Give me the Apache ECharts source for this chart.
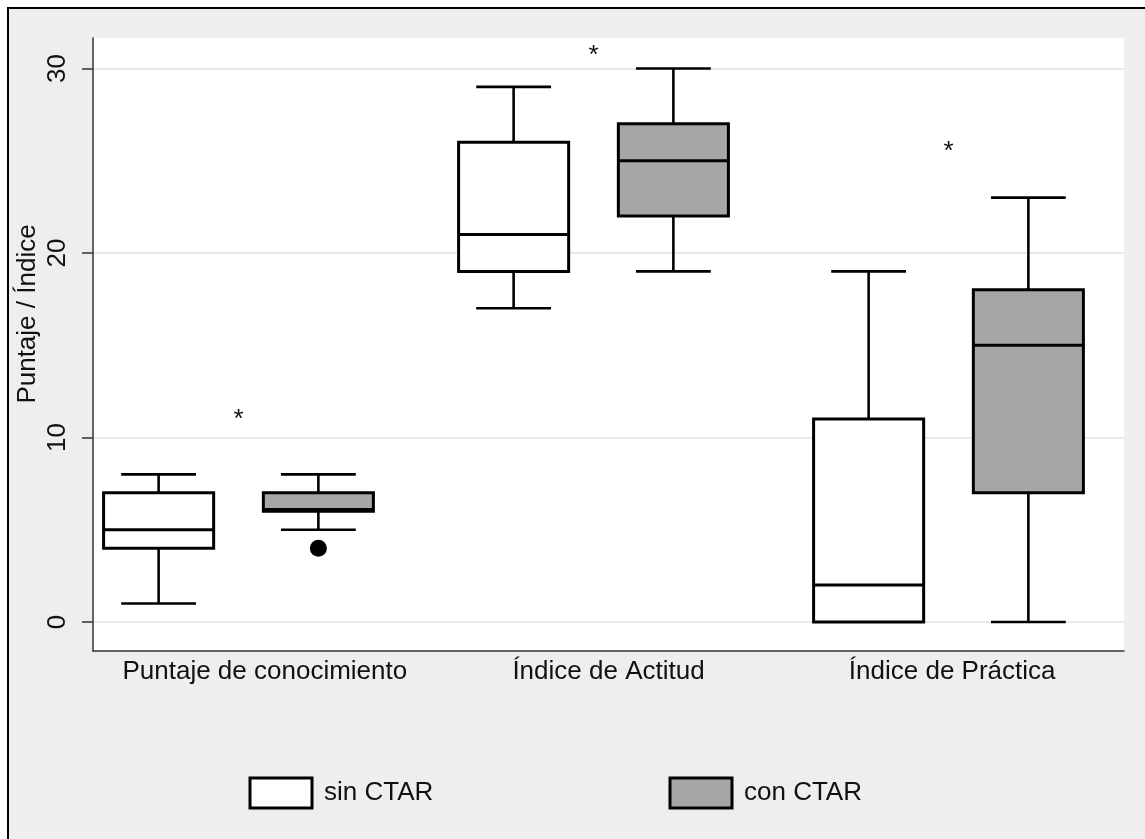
<!DOCTYPE html>
<html><head><meta charset="utf-8">
<script src="https://cdn.jsdelivr.net/npm/echarts@6/dist/echarts.min.js"></script>
<style>html,body{margin:0;padding:0;background:#fff}#c{width:1145px;height:839px}</style>
</head><body><div id="c"></div>
<script>
// ---------- data ----------
const categories = ['Puntaje de conocimiento', 'Índice de Actitud', 'Índice de Práctica'];
const yTicks = [0, 10, 20, 30];
const seriesNames = ['sin CTAR', 'con CTAR'];
// each row: [min, Q1, median, Q3, max]
const sinCTAR = [[1, 4, 5, 7, 8], [17, 19, 21, 26, 29], [0, 0, 2, 11, 19]];
const conCTAR = [[5, 6, 6.1, 7, 8], [19, 22, 25, 27, 30], [0, 7, 15, 18, 23]];
const conOutliers = [[0, 4]];            // [category index, value]
const asterisks = [11.3, 31.0, 25.8];    // significance marks per category
const yTitle = 'Puntaje / Índice';

// ---------- styling ----------
const FONT = "'Liberation Sans', Arial, sans-serif";
const FS = 26;
const Y_MIN = -1.572, Y_MAX = 31.65;

function boxSeries(name, rows, side, fill) {
  return {
    type: 'custom', name: name, xAxisIndex: 2, yAxisIndex: 2,
    itemStyle: { color: fill, borderColor: '#000', borderWidth: 3 },
    data: rows.map((r, i) => [i].concat(r)),
    encode: { x: 0, y: [1, 2, 3, 4, 5] },
    renderItem: function (params, api) {
      const c = api.value(0);
      const lo = api.value(1), q1 = api.value(2), md = api.value(3), q3 = api.value(4), hi = api.value(5);
      const band = api.size([1, 0])[0];
      const cx = api.coord([c, 0])[0] + side * band * 0.225;
      const bw = band * 0.31, cw = bw * 0.68;
      const Y = v => api.coord([c, v])[1];
      const ls = { stroke: '#000', lineWidth: 2.6, fill: null };
      const ch = [];
      if (hi > q3) {
        ch.push({ type: 'line', shape: { x1: cx, y1: Y(hi), x2: cx, y2: Y(q3) }, style: ls });
        ch.push({ type: 'line', shape: { x1: cx - cw / 2, y1: Y(hi), x2: cx + cw / 2, y2: Y(hi) }, style: ls });
      }
      if (lo < q1) {
        ch.push({ type: 'line', shape: { x1: cx, y1: Y(q1), x2: cx, y2: Y(lo) }, style: ls });
        ch.push({ type: 'line', shape: { x1: cx - cw / 2, y1: Y(lo), x2: cx + cw / 2, y2: Y(lo) }, style: ls });
      }
      ch.push({ type: 'rect', shape: { x: cx - bw / 2, y: Y(q3), width: bw, height: Y(q1) - Y(q3) },
        style: { fill: fill, stroke: '#000', lineWidth: 3 } });
      ch.push({ type: 'line', shape: { x1: cx - bw / 2, y1: Y(md), x2: cx + bw / 2, y2: Y(md) },
        style: { stroke: '#000', lineWidth: 3 } });
      return { type: 'group', children: ch };
    }
  };
}

const chart = echarts.init(document.getElementById('c'), null, { renderer: 'canvas' });
chart.setOption({
  animation: false,
  backgroundColor: '#eeeeee',
  textStyle: { fontFamily: FONT },
  grid: [
    { left: 93, right: 21, top: 38, bottom: 188, show: true, backgroundColor: '#ffffff', borderWidth: 0 },
    { left: 93, right: 21, top: 68.5, bottom: 217 },
    { left: 61, right: 19, top: 38, bottom: 188 }
  ],
  xAxis: [
    { type: 'category', gridIndex: 0, data: categories,
      axisLine: { onZero: false, lineStyle: { color: '#333', width: 1.5 } }, axisTick: { show: false },
      axisLabel: { fontSize: FS, color: '#111', margin: 8, fontFamily: FONT, interval: 0 } },
    { type: 'value', gridIndex: 1, show: false },
    { type: 'category', gridIndex: 2, data: categories, show: false }
  ],
  yAxis: [
    { type: 'value', gridIndex: 0, min: Y_MIN, max: Y_MAX,
      axisLine: { show: true, onZero: false, lineStyle: { color: '#333', width: 1.5 } },
      axisTick: { show: false }, axisLabel: { show: false }, splitLine: { show: false } },
    { type: 'value', gridIndex: 1, min: yTicks[0], max: yTicks[yTicks.length - 1], interval: yTicks[1] - yTicks[0],
      axisLine: { show: false },
      axisTick: { show: true, length: 11, lineStyle: { color: '#333', width: 1.5 } },
      axisLabel: { rotate: 90, fontSize: FS, color: '#111', margin: 22, fontFamily: FONT },
      splitLine: { show: true, lineStyle: { color: '#e9e9e9', width: 2 } } },
    { type: 'value', gridIndex: 2, min: Y_MIN, max: Y_MAX, show: false }
  ],
  legend: [
    { data: [{ name: seriesNames[0], icon: 'rect', itemStyle: { color: '#ffffff', borderColor: '#000', borderWidth: 3 } }],
      left: 248.5, top: 776.5, padding: 0, itemWidth: 62, itemHeight: 30, selectedMode: false,
      textStyle: { fontSize: FS, color: '#111', fontFamily: FONT, padding: [0, 0, 0, 7] } },
    { data: [{ name: seriesNames[1], icon: 'rect', itemStyle: { color: '#a6a6a6', borderColor: '#000', borderWidth: 3 } }],
      left: 668.5, top: 776.5, padding: 0, itemWidth: 62, itemHeight: 30, selectedMode: false,
      textStyle: { fontSize: FS, color: '#111', fontFamily: FONT, padding: [0, 0, 0, 7] } }
  ],
  graphic: [
    { type: 'rect', shape: { x: 0, y: 0, width: 1145, height: 7 }, style: { fill: '#fff' }, silent: true },
    { type: 'rect', shape: { x: 0, y: 0, width: 7, height: 839 }, style: { fill: '#fff' }, silent: true },
    { type: 'line', shape: { x1: 7, y1: 8, x2: 1145, y2: 8 }, style: { stroke: '#000', lineWidth: 2 }, silent: true },
    { type: 'line', shape: { x1: 8, y1: 7, x2: 8, y2: 839 }, style: { stroke: '#000', lineWidth: 2 }, silent: true },
    { type: 'text', x: 28, y: 314, rotation: Math.PI / 2, silent: true,
      style: { text: yTitle, font: FS + 'px ' + FONT, fill: '#111', textAlign: 'center', textVerticalAlign: 'middle' } }
  ],
  series: [
    boxSeries(seriesNames[0], sinCTAR, -1, '#ffffff'),
    boxSeries(seriesNames[1], conCTAR, 1, '#a6a6a6'),
    { type: 'custom', name: 'outliers', xAxisIndex: 2, yAxisIndex: 2,
      data: conOutliers, encode: { x: 0, y: 1 },
      renderItem: function (params, api) {
        const band = api.size([1, 0])[0];
        const p = api.coord([api.value(0), api.value(1)]);
        return { type: 'circle', shape: { cx: p[0] + band * 0.225, cy: p[1], r: 8.5 }, style: { fill: '#000' } };
      } },
    { type: 'custom', name: 'signif', xAxisIndex: 2, yAxisIndex: 2,
      data: asterisks.map((v, i) => [i, v]), encode: { x: 0, y: 1 },
      renderItem: function (params, api) {
        const p = api.coord([api.value(0), api.value(1)]);
        return { type: 'text', x: p[0], y: p[1] + 6,
          style: { text: '*', font: FS + 'px ' + FONT, fill: '#111', textAlign: 'center', textVerticalAlign: 'middle' } };
      } }
  ]
});
</script>
</body></html>
